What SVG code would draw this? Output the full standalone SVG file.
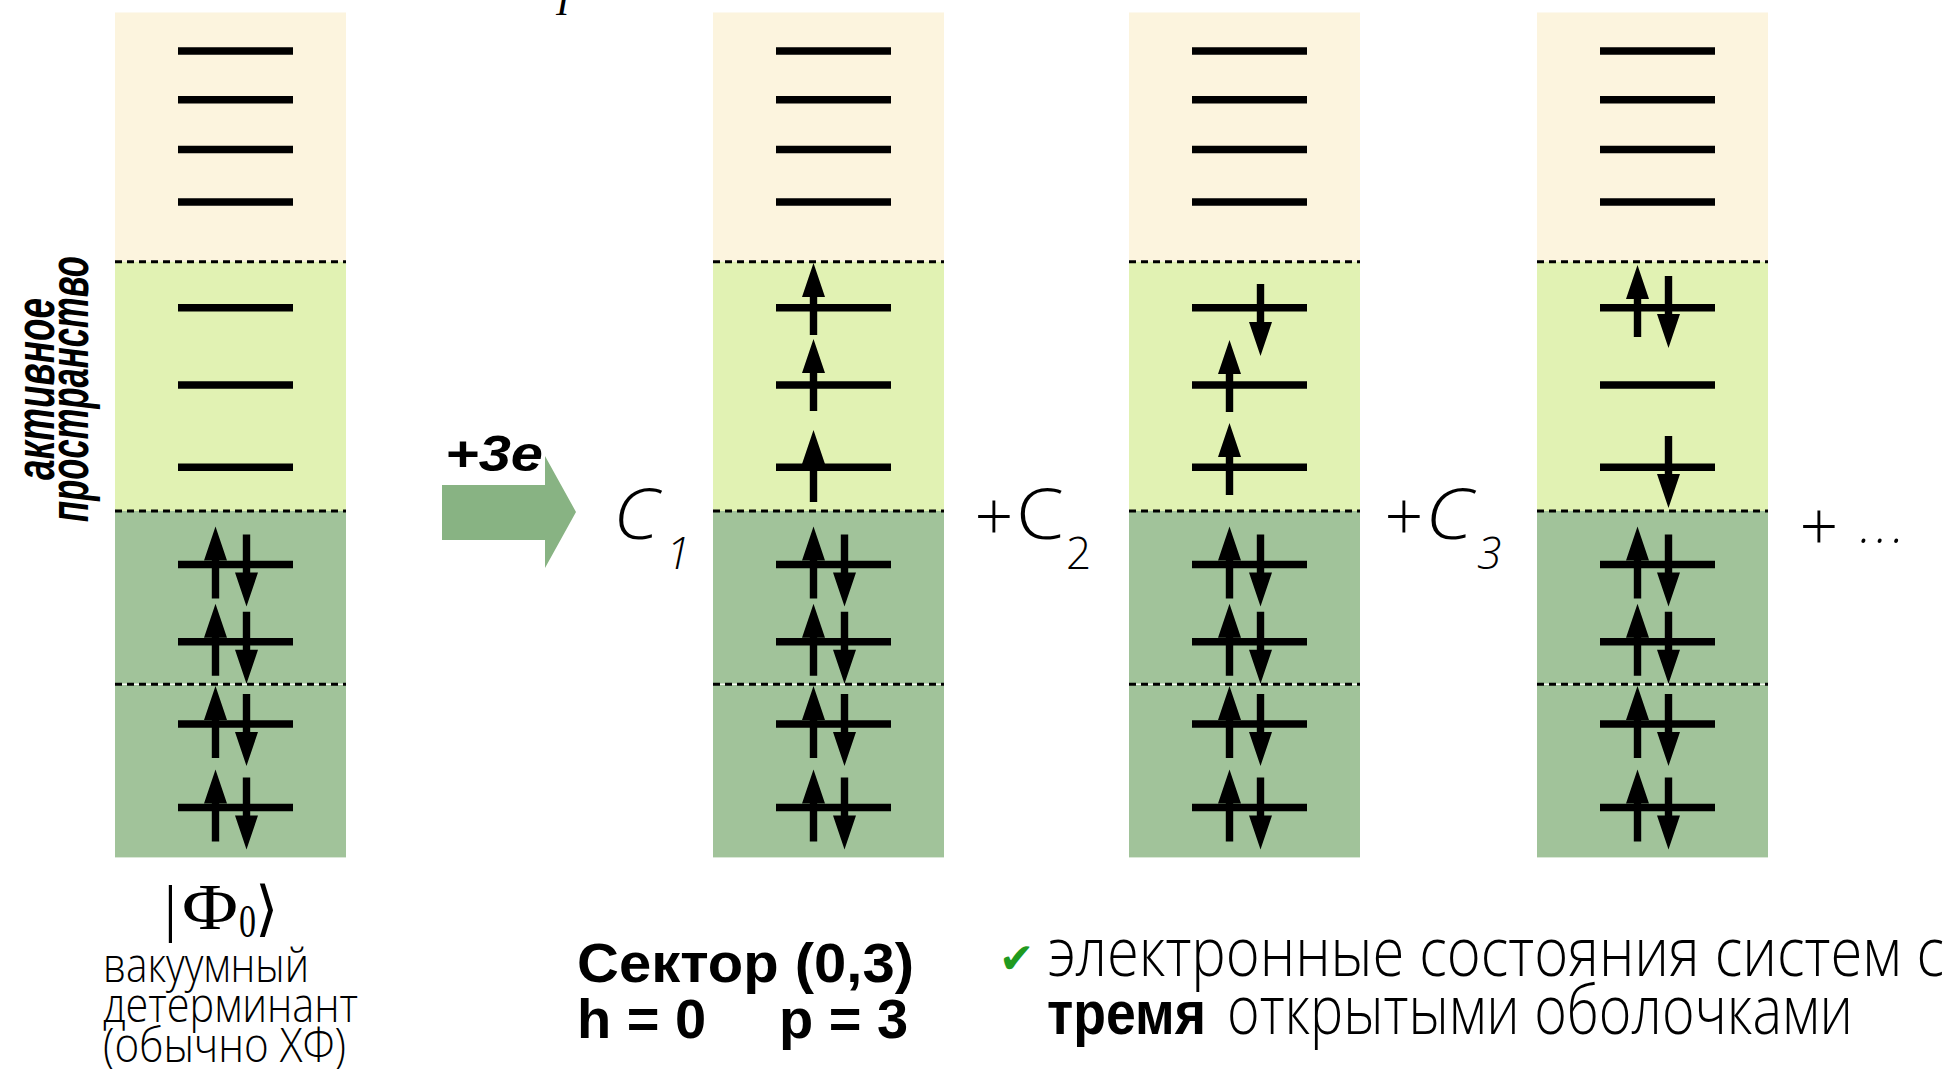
<svg xmlns="http://www.w3.org/2000/svg" xmlns:xlink="http://www.w3.org/1999/xlink" width="1954" height="1069" viewBox="0 0 1954 1069">
<style>
.yel{fill:#fcf4de}
.lgr{fill:#e1f2b3}
.dgr{fill:#a1c39a}
.dash{stroke:#000;stroke-width:3;stroke-dasharray:7 5;fill:none}
.lv{stroke:#000;stroke-width:7.5}
.ar{fill:#000}
.thin{font-family:"Open Sans","Liberation Sans",sans-serif;font-weight:300;fill:#000}
.bold{font-family:"Liberation Sans","Noto Sans",sans-serif;font-weight:bold;fill:#000}
.ser{font-family:"Liberation Serif","DejaVu Serif",serif;fill:#000}
</style>
<defs>
<path id="up" class="ar" d="M0,0 L11.5,34 L3.7,34 L3.7,72 L-3.7,72 L-3.7,34 L-11.5,34 Z"/>
<path id="dn" class="ar" d="M0,0 L11.5,-34 L3.7,-34 L3.7,-72 L-3.7,-72 L-3.7,-34 L-11.5,-34 Z"/>
<g id="bg">
<rect class="yel" x="0" y="12.5" width="231" height="249.2"/>
<rect class="lgr" x="0" y="261.7" width="231" height="249.3"/>
<rect class="dgr" x="0" y="511" width="231" height="346.4"/>
<line class="dash" x1="0" y1="261.7" x2="231" y2="261.7"/>
<line class="dash" x1="0" y1="511" x2="231" y2="511"/>
<line x1="0" y1="684.2" x2="231" y2="684.2" stroke="#f4f8f0" stroke-width="1.5"/>
<line class="dash" x1="0" y1="684.2" x2="231" y2="684.2"/>
</g>
<g id="levels">
<line class="lv" x1="63" y1="51.1" x2="178" y2="51.1"/>
<line class="lv" x1="63" y1="99.7" x2="178" y2="99.7"/>
<line class="lv" x1="63" y1="149.5" x2="178" y2="149.5"/>
<line class="lv" x1="63" y1="201.9" x2="178" y2="201.9"/>
<line class="lv" x1="63" y1="307.8" x2="178" y2="307.8"/>
<line class="lv" x1="63" y1="385.1" x2="178" y2="385.1"/>
<line class="lv" x1="63" y1="467.3" x2="178" y2="467.3"/>
<line class="lv" x1="63" y1="564.5" x2="178" y2="564.5"/>
<line class="lv" x1="63" y1="641.8" x2="178" y2="641.8"/>
<line class="lv" x1="63" y1="724" x2="178" y2="724"/>
<line class="lv" x1="63" y1="807.5" x2="178" y2="807.5"/>
</g>
<g id="core">
<use xlink:href="#up" x="100.5" y="526.5"/>
<use xlink:href="#dn" x="131.5" y="606.5"/>
<use xlink:href="#up" x="100.5" y="603.8"/>
<use xlink:href="#dn" x="131.5" y="683.8"/>
<use xlink:href="#up" x="100.5" y="686"/>
<use xlink:href="#dn" x="131.5" y="766"/>
<use xlink:href="#up" x="100.5" y="769.5"/>
<use xlink:href="#dn" x="131.5" y="849.5"/>
</g>
</defs>

<text class="ser" x="556" y="15" font-size="40" font-style="italic">I</text>

<g id="vacuum-column" transform="translate(115,0)">
<use xlink:href="#bg"/>
<use xlink:href="#levels"/>
<use xlink:href="#core"/>
</g>

<g id="active-space-label" class="bold" font-style="italic" font-size="56">
<text transform="translate(54,389) rotate(-90)" text-anchor="middle" textLength="182" lengthAdjust="spacingAndGlyphs">активное</text>
<text transform="translate(88,389) rotate(-90)" text-anchor="middle" textLength="266" lengthAdjust="spacingAndGlyphs">пространство</text>
</g>

<g id="vacuum-label">
<text class="ser" x="164" y="929" font-size="64">|</text>
<text class="ser" x="182" y="929" font-size="66" textLength="56" lengthAdjust="spacingAndGlyphs">Φ</text>
<text class="ser" x="239" y="937" font-size="46" textLength="17" lengthAdjust="spacingAndGlyphs">0</text>
<text class="ser" x="255" y="929" font-family="DejaVu Sans" font-weight="200" font-size="60">⟩</text>
<text class="thin" x="103" y="982" font-size="47" textLength="206" lengthAdjust="spacingAndGlyphs">вакуумный</text>
<text class="thin" x="103" y="1022" font-size="47" textLength="255" lengthAdjust="spacingAndGlyphs">детерминант</text>
<text class="thin" x="103" y="1062" font-size="47" textLength="243" lengthAdjust="spacingAndGlyphs">(обычно ХФ)</text>
</g>

<g id="plus3e-arrow">
<path d="M442,485 H545 V456 L576,512 L545,568 V540 H442 Z" fill="#88b383"/>
<text class="bold" x="445" y="471" font-size="50" font-style="italic" textLength="98" lengthAdjust="spacingAndGlyphs">+3e</text>
</g>

<g id="coef-labels" class="thin">
<text x="613" y="539" font-size="70" font-style="italic" textLength="46" lengthAdjust="spacingAndGlyphs">C</text>
<text x="666" y="569" font-size="44" font-style="italic">1</text>
<text x="994" y="541" font-size="68" text-anchor="middle">+</text>
<text x="1016" y="539" font-size="70" textLength="48" lengthAdjust="spacingAndGlyphs">C</text>
<text x="1066" y="569" font-size="44">2</text>
<text x="1404" y="541" font-size="68" text-anchor="middle">+</text>
<text x="1425" y="539" font-size="70" font-style="italic" textLength="48" lengthAdjust="spacingAndGlyphs">C</text>
<text x="1477" y="569" font-size="44" font-style="italic">3</text>
<text x="1819" y="551" font-size="68" text-anchor="middle">+</text>
<text x="1860" y="543" font-size="50" font-style="italic" textLength="44" lengthAdjust="spacing">...</text>
</g>

<g id="config-1" transform="translate(713,0)">
<use xlink:href="#bg"/>
<use xlink:href="#levels"/>
<use xlink:href="#core"/>
<use xlink:href="#up" x="100.5" y="263"/>
<use xlink:href="#up" x="100.5" y="339"/>
<use xlink:href="#up" x="100.5" y="430"/>
</g>

<g id="config-2" transform="translate(1129,0)">
<use xlink:href="#bg"/>
<use xlink:href="#levels"/>
<use xlink:href="#core"/>
<use xlink:href="#dn" x="131.5" y="356"/>
<use xlink:href="#up" x="100.5" y="340"/>
<use xlink:href="#up" x="100.5" y="423"/>
</g>

<g id="config-3" transform="translate(1537,0)">
<use xlink:href="#bg"/>
<use xlink:href="#levels"/>
<use xlink:href="#core"/>
<use xlink:href="#up" x="100.5" y="265"/>
<use xlink:href="#dn" x="131.5" y="348"/>
<use xlink:href="#dn" x="131.5" y="508"/>
</g>

<g id="sector-label" class="bold" font-size="56">
<text x="577" y="982" textLength="337" lengthAdjust="spacingAndGlyphs">Сектор (0,3)</text>
<text y="1038"><tspan x="577">h = 0</tspan><tspan x="779">p = 3</tspan></text>
</g>

<g id="description">
<text x="999" y="973" font-family="DejaVu Sans,sans-serif" font-size="42" font-style="italic" fill="#1f9a1f">✔</text>
<text class="thin" x="1047" y="976" font-size="68" textLength="897" lengthAdjust="spacingAndGlyphs">электронные состояния систем с</text>
<text class="bold" x="1047" y="1034" font-size="62" textLength="159" lengthAdjust="spacingAndGlyphs">тремя</text>
<text class="thin" x="1227" y="1034" font-size="68" textLength="626" lengthAdjust="spacingAndGlyphs">открытыми оболочками</text>
</g>
</svg>
